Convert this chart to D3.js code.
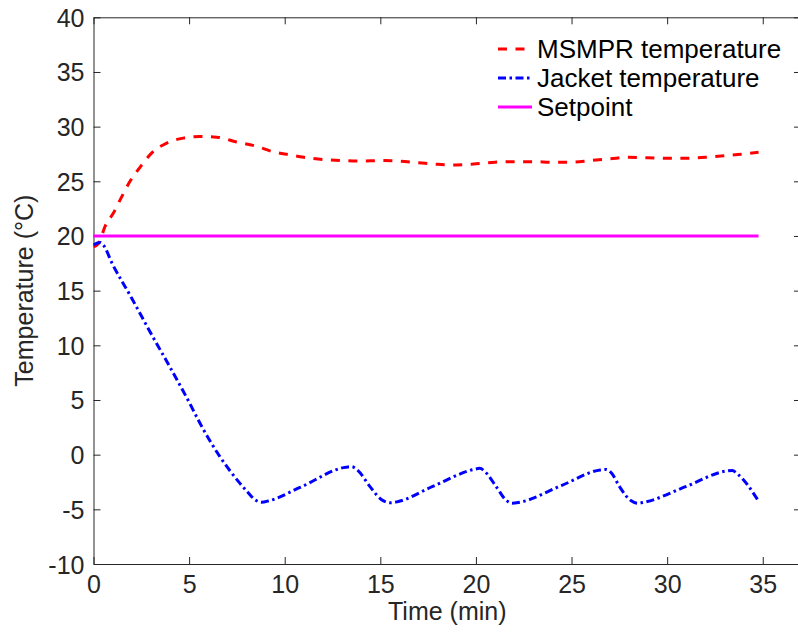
<!DOCTYPE html>
<html>
<head>
<meta charset="utf-8">
<script src="https://cdn.jsdelivr.net/npm/d3@7"></script>
<style>
  body { margin: 0; background: #fff; }
  text { font-family: "Liberation Sans", Arial, sans-serif; }
</style>
</head>
<body>
<div id="chart"></div>
<script>
// MSMPR (reactor) temperature
const timeMsmpr = [0, 0.26, 0.61, 1.04, 1.48, 1.91, 2.44, 3.05, 3.83, 4.70, 5.57, 6.44, 7.48, 8.53, 9.40,
  10, 11, 12, 13, 14, 15, 16, 17, 18, 19, 20, 21, 22, 23, 24, 25, 26, 27, 28, 29, 30, 31, 32, 33, 34, 34.78];
const tempMsmpr = [19.0, 19.3, 20.9, 22.1, 23.6, 25.0, 26.3, 27.6, 28.5, 28.95, 29.1, 29.04, 28.6, 28.2, 27.7,
  27.5, 27.2, 27.0, 26.9, 26.85, 26.9, 26.85, 26.7, 26.55, 26.5, 26.6, 26.75, 26.8, 26.8, 26.75, 26.75, 26.9,
  27.05, 27.2, 27.15, 27.1, 27.1, 27.2, 27.35, 27.5, 27.66];

// jacket temperature
const timeJacket = [0, 0.35, 0.5, 1, 2, 3, 4, 5, 5.57, 6.61, 7.65, 8.1, 8.43, 8.78, 9.2, 10.8, 13.2, 13.5, 13.8,
  14.45, 15.05, 15.5, 15.9, 17.74, 19.9, 20.2, 20.5, 21.05, 21.6, 21.9, 22.3, 24.5, 26.5, 26.8, 27.1, 27.5,
  28.1, 28.45, 28.8, 31, 33.1, 33.4, 33.7, 34.8];
const tempJacket = [19.2, 19.4, 19.2, 17.4, 14.3, 11.1, 8.0, 4.8, 2.87, -0.18, -2.6, -3.5, -4.1, -4.35, -4.2,
  -3.0, -1.15, -1.1, -1.4, -2.9, -4.1, -4.4, -4.3, -2.9, -1.35, -1.25, -1.6, -2.9, -4.2, -4.45, -4.35, -2.8,
  -1.4, -1.35, -1.7, -2.9, -4.2, -4.45, -4.35, -2.9, -1.5, -1.45, -1.8, -4.3];

// setpoint
const timeSetpoint = [0, 34.78];
const tempSetpoint = [20, 20];

const xTicks = [0, 5, 10, 15, 20, 25, 30, 35];
const yTicks = [-10, -5, 0, 5, 10, 15, 20, 25, 30, 35, 40];
const seriesNames = ["MSMPR temperature", "Jacket temperature", "Setpoint"];

const W = 798, H = 632;
const L = 93.5, R = 801, T = 17.3, B = 564;
const axisColor = "#262626";

const svg = d3.select("#chart").append("svg").attr("width", W).attr("height", H);

const x = d3.scaleLinear().domain([0, 37]).range([L, R]);
const y = d3.scaleLinear().domain([-10, 40]).range([B, T]);

// box with inward ticks on all sides; plain hyphen for negatives
function axis(gen, tr, labels) {
  let a = gen.tickSizeInner(-7).tickSizeOuter(0).tickPadding(10);
  a.tickFormat(labels ? (d => String(d)) : "");
  let g = svg.append("g").attr("transform", "translate(" + tr + ")").call(a);
  g.select(".domain").attr("stroke", axisColor);
  g.selectAll(".tick line").attr("stroke", axisColor);
  g.selectAll(".tick text").attr("fill", axisColor).style("font-size", "25px")
    .style("font-family", "Liberation Sans, Arial, sans-serif");
  return g;
}
let gx = axis(d3.axisBottom(x).tickValues(xTicks), [0, B], true);
gx.selectAll(".tick text").attr("dy", null).attr("y", 29);
axis(d3.axisTop(x).tickValues(xTicks), [0, T], false);
let gy = axis(d3.axisLeft(y).tickValues(yTicks), [L, 0], true);
gy.selectAll(".tick text").attr("x", -9).attr("dy", "0.36em");
axis(d3.axisRight(y).tickValues(yTicks), [R, 0], false);

// axis labels
svg.append("text").attr("x", (L + R) / 2).attr("y", 620).attr("text-anchor", "middle")
  .attr("fill", axisColor).style("font-size", "25px").text("Time (min)");
svg.append("text").attr("transform", "translate(33," + (T + B) / 2 + ") rotate(-90)")
  .attr("text-anchor", "middle").attr("fill", axisColor).style("font-size", "25px")
  .text("Temperature (\u00B0C)");

const styles = [
  { color: "#ff0000", dash: "9,8.5" },
  { color: "#0000ff", dash: "8,3.5,2.5,3.5" },
  { color: "#ff00ff", dash: null }
];
const series = [
  [timeMsmpr, tempMsmpr],
  [timeJacket, tempJacket],
  [timeSetpoint, tempSetpoint]
];

const line = d3.line().x(d => x(d[0])).y(d => y(d[1])).curve(d3.curveMonotoneX);

// draw setpoint first so the other lines sit over it
[2, 0, 1].forEach(i => {
  let s = series[i];
  let pts = s[0].map((t, j) => [t, s[1][j]]);
  svg.append("path").attr("d", line(pts)).attr("fill", "none")
    .attr("stroke", styles[i].color).attr("stroke-width", 3)
    .attr("stroke-dasharray", styles[i].dash);
});

// legend
const leg = svg.append("g").attr("class", "legend");
seriesNames.forEach((name, i) => {
  let ly = 49 + i * 29;
  leg.append("line").attr("x1", 498).attr("x2", 532).attr("y1", ly).attr("y2", ly)
    .attr("stroke", styles[i].color).attr("stroke-width", 3)
    .attr("stroke-dasharray", styles[i].dash);
  leg.append("text").attr("x", 537).attr("y", ly).attr("dy", "0.36em")
    .attr("fill", "#000").style("font-size", "26px").text(name);
});
</script>
</body>
</html>
